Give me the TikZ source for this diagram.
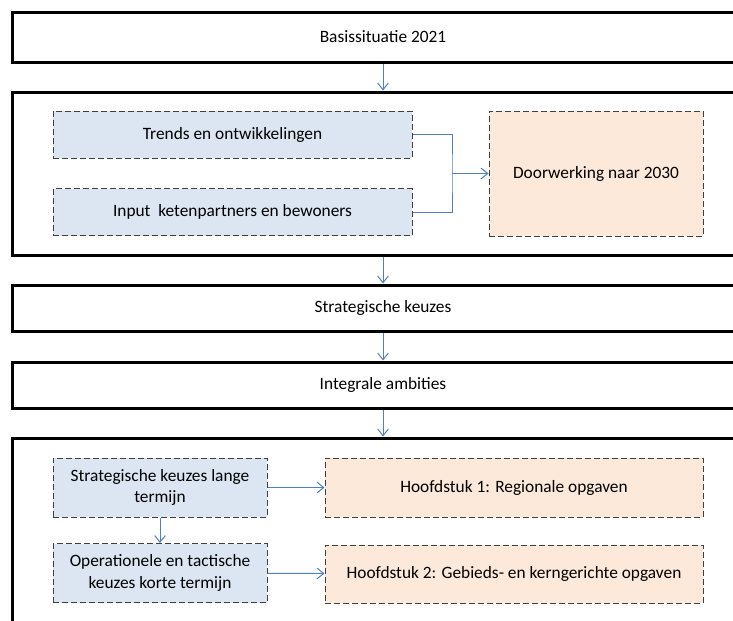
\documentclass[tikz,border=0pt]{standalone}
\usepackage{fontspec}
\setmainfont{Carlito}
\usetikzlibrary{arrows.meta}

\definecolor{kaderblauw}{HTML}{DCE6F2}
\definecolor{kaderoranje}{HTML}{FDE9D9}
\definecolor{pijlblauw}{HTML}{4F81BD}
\definecolor{streepgrijs}{HTML}{404040}

\tikzset{
  blok/.style={draw=black, line width=2.25pt, minimum width=556.5pt, inner sep=0pt,
    font=\fontsize{13}{16}\selectfont},
  blauwvak/.style={draw=streepgrijs, fill=kaderblauw, dash pattern=on 4.5pt off 2.25pt,
    line width=0.75pt, align=center, inner sep=0pt, font=\fontsize{13}{16}\selectfont},
  oranjevak/.style={blauwvak, fill=kaderoranje},
  pijl/.style={draw=pijlblauw, line width=0.75pt, -{Straight Barb[length=5pt,width=8pt]}},
  lijn/.style={draw=pijlblauw, line width=0.75pt}
}

\begin{document}
\begin{tikzpicture}[x=0.75pt, y=-0.75pt]
		%%%%% START %%%%%
		\useasboundingbox (0, 0) rectangle (733, 621);
		\clip (0, 0) rectangle (733, 621);
		\fill[white] (0, 0) rectangle (733, 621);
		
		% hoofdblokken
		\node[blok, minimum height=37.5pt] (basis) at (383, 37) {Basissituatie 2021};
		\node[blok, minimum height=122.25pt] (analyse) at (383, 173.5) {};
		\node[blok, minimum height=34.5pt] (strategie) at (383, 308) {Strategische keuzes};
		\node[blok, minimum height=34.5pt] (ambities) at (383, 385) {Integrale ambities};
		\node[blok, minimum height=153pt] (uitwerking) at (383, 540) {};
		
		% analyseblok
		\node[blauwvak, minimum width=269.25pt, minimum height=35.25pt] (trends) at (232.5, 134.5) {Trends en ontwikkelingen};
		\node[blauwvak, minimum width=269.25pt, minimum height=35.25pt] (input) at (232.5, 212) {Input~ ketenpartners en bewoners};
		\node[oranjevak, minimum width=160.5pt, minimum height=93.75pt] (doorwerking) at (596, 173.5) {Doorwerking naar 2030};
		\coordinate (samen) at (452, 173.5);
		
		% uitwerkingsblok
		\node[blauwvak, minimum width=160.5pt, minimum height=44.25pt] (lang) at (160, 487.5) {Strategische keuzes lange\\termijn};
		\node[blauwvak, minimum width=160.5pt, minimum height=44.25pt] (kort) at (160, 573) {Operationele en tactische\\keuzes korte termijn};
		\node[oranjevak, minimum width=283.5pt, minimum height=44.25pt] (hfd1) at (514, 487.5) {Hoofdstuk 1: Regionale opgaven};
		\node[oranjevak, minimum width=283.5pt, minimum height=43.5pt] (hfd2) at (514, 574) {Hoofdstuk 2: Gebieds- en kerngerichte opgaven};
		
		% pijlen
		\draw[pijl] (basis) -- (analyse);
		\draw[pijl] (analyse) -- (strategie);
		\draw[pijl] (strategie) -- (ambities);
		\draw[pijl] (ambities) -- (uitwerking);
		
		\draw[lijn] (trends.east) -| (samen) |- (input.east);
		\draw[pijl] (samen) -- (doorwerking.west);
		
		\draw[pijl] (lang) -- (hfd1);
		\draw[pijl] (kort) -- (hfd2);
		\draw[pijl] (lang) -- (kort);
		
		%%%%% END %%%%%
\end{tikzpicture}
\end{document}
